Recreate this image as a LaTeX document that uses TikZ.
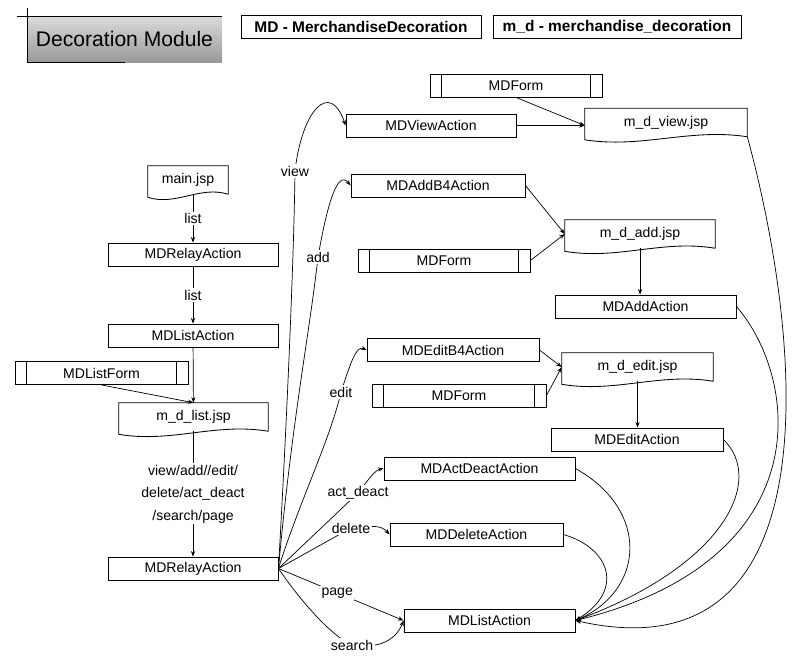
\documentclass[tikz,border=0pt]{standalone}
\usepackage{fontspec}
\setmainfont{Liberation Sans}
\usetikzlibrary{arrows.meta,calc}

\tikzset{
  box/.style={draw, line width=0.6pt, minimum height=0.575cm, inner sep=1pt,
    font=\fontsize{10}{12}\selectfont},
  formbox/.style={box, append after command={
    ([xshift=0.29cm]\tikzlastnode.north west) edge[line width=0.6pt] ([xshift=0.29cm]\tikzlastnode.south west)
    ([xshift=-0.29cm]\tikzlastnode.north east) edge[line width=0.6pt] ([xshift=-0.29cm]\tikzlastnode.south east)}},
  jsp/.style={minimum height=0.7cm, inner sep=1pt, font=\fontsize{10}{12}\selectfont},
  lbl/.style={fill=white, inner sep=1pt, font=\fontsize{10}{12}\selectfont},
  legend/.style={draw, line width=0.6pt, minimum height=0.575cm, inner sep=1pt,
    font=\bfseries\fontsize{11}{13}\selectfont},
  link/.style={->, line width=0.5pt},
}

\begin{document}
\begin{tikzpicture}[x=0.025cm, y=-0.025cm, >={Stealth[length=4pt,width=3pt]}]

  \useasboundingbox (0,0) rectangle (806,660);

  % Title block
  \fill[top color=black!14, bottom color=black!40] (27,16) rectangle (222,62);
  \draw[line width=0.6pt] (17,16) -- (222,16);
  \draw[line width=0.6pt] (27,8) -- (27,62) -- (125,62);
  \node[font=\fontsize{15}{18}\selectfont] (title) at (124.5,39) {Decoration Module};

  % Legend
  \node[legend, minimum width=6.0cm] (leg1) at (361,26.5) {MD - MerchandiseDecoration};
  \node[legend, minimum width=6.2cm] (leg2) at (617,26.5) {m\_d - merchandise\_decoration};

  % Left column
  \node[jsp, minimum width=2.0cm] (mainjsp) at (188,180) {main.jsp};
  \node[box, minimum width=4.25cm] (relayA) at (193,254.5) {MDRelayAction};
  \node[box, minimum width=4.25cm] (listA) at (193,335.5) {MDListAction};
  \node[formbox, minimum width=4.325cm] (listform) at (101.5,373) {MDListForm};
  \node[jsp, minimum width=3.725cm] (listjsp) at (193.5,417) {m\_d\_list.jsp};
  \node[box, minimum width=4.25cm] (relayB) at (193,568.5) {MDRelayAction};

  % Right column
  \node[formbox, minimum width=4.3cm] (form1) at (516,85.5) {MDForm};
  \node[box, minimum width=4.25cm] (viewA) at (431,125.5) {MDViewAction};
  \node[jsp, minimum width=4.05cm] (viewjsp) at (666,122.5) {m\_d\_view.jsp};
  \node[box, minimum width=4.35cm] (addB4) at (438,185.5) {MDAddB4Action};
  \node[jsp, minimum width=3.75cm] (addjsp) at (640,234) {m\_d\_add.jsp};
  \node[formbox, minimum width=4.3cm] (addform) at (444,260.5) {MDForm};
  \node[box, minimum width=4.525cm] (addA) at (645.5,306.5) {MDAddAction};
  \node[box, minimum width=4.3cm] (editB4) at (453,350) {MDEditB4Action};
  \node[jsp, minimum width=3.775cm] (editjsp) at (637.5,367) {m\_d\_edit.jsp};
  \node[formbox, minimum width=4.35cm] (editform) at (459,395.5) {MDForm};
  \node[box, minimum width=4.3cm] (editA) at (637,439.5) {MDEditAction};
  \node[box, minimum width=4.775cm] (actA) at (479.5,468.5) {MDActDeactAction};
  \node[box, minimum width=4.325cm] (delA) at (476.5,534.5) {MDDeleteAction};
  \node[box, minimum width=4.275cm] (listB) at (489.5,620.5) {MDListAction};

  % Page outlines with wavy bottom
  \foreach \d in {mainjsp, listjsp, viewjsp, addjsp, editjsp}
    \draw[line width=0.6pt] (\d.south east) -- (\d.north east) -- (\d.north west)
      -- ($(\d.south west)+(0,3)$)
      .. controls ($(\d.south west)!0.35!(\d.south east)+(0,12)$)
      and ($(\d.south west)!0.65!(\d.south east)+(0,-9)$) .. (\d.south east);

  % Left column flow
  \draw[link] (mainjsp.south -| relayA) -- node[lbl] {list} (relayA);
  \draw[link] (relayA) -- node[lbl] {list} (listA);
  \draw[link] (listA) -- (listjsp);
  \draw[link] (listform.south) -- (listjsp.north);
  \draw[link] (listjsp.south -| relayB) -- node[lbl, align=center, font=\fontsize{10}{16}\selectfont]
    {view/add//edit/\\delete/act\_deact\\/search/page} (relayB);

  % Fan out of the relay action
  \draw[link] (relayB.east) .. controls (288,400) and (294,250) .. (295,171) node[lbl] {view}
    .. controls (302,110) and (330,80) .. (viewA.west);
  \draw[link] (relayB.east) .. controls (292,420) and (310,330) .. (318,257) node[lbl] {add}
    .. controls (328,200) and (338,170) .. (addB4.west);
  \draw[link] (relayB.east) .. controls (300,500) and (330,440) .. (341,392) node[lbl] {edit}
    .. controls (350,365) and (356,345) .. (editB4.west);
  \draw[link] (relayB.east) -- (358,493) node[lbl] {act\_deact}
    .. controls (368,480) and (375,470) .. (actA.west);
  \draw[link] (relayB.east) -- (351,528) node[lbl] {delete}
    .. controls (375,525) and (382,526) .. (delA.west);
  \draw[link] (relayB.east) -- node[lbl, pos=0.47] {page} (listB.west);
  \draw[link] (relayB.east) .. controls (300,600) and (330,635) .. (352,645) node[lbl] {search}
    .. controls (385,650) and (398,635) .. (listB.west);

  % Forms and actions into the pages
  \draw[link] (viewA.east) -- (viewA.east -| viewjsp.west);
  \draw[link] (form1.south) -- (viewA.east -| viewjsp.west);
  \draw[link] (addB4.east) -- (addjsp.west);
  \draw[link] (addform.east) -- (addjsp.west);
  \draw[link] (addjsp.south) -- (addjsp.south |- addA.north);
  \draw[link] (editB4.east) -- (editjsp.west);
  \draw[link] (editform.east) -- (editjsp.west);
  \draw[link] (editjsp.south) -- (editjsp.south |- editA.north);

  % Everything returns to the list action
  \draw[link] (viewjsp.south east) .. controls (800,330) and (840,680) .. (listB.east);
  \draw[link] (addA.east) .. controls (800,380) and (820,560) .. (listB.east);
  \draw[link] (editA.east) .. controls (765,480) and (725,565) .. (listB.east);
  \draw[link] (actA.east) .. controls (650,510) and (645,590) .. (listB.east);
  \draw[link] (delA.east) .. controls (610,548) and (625,590) .. (listB.east);

\end{tikzpicture}
\end{document}
